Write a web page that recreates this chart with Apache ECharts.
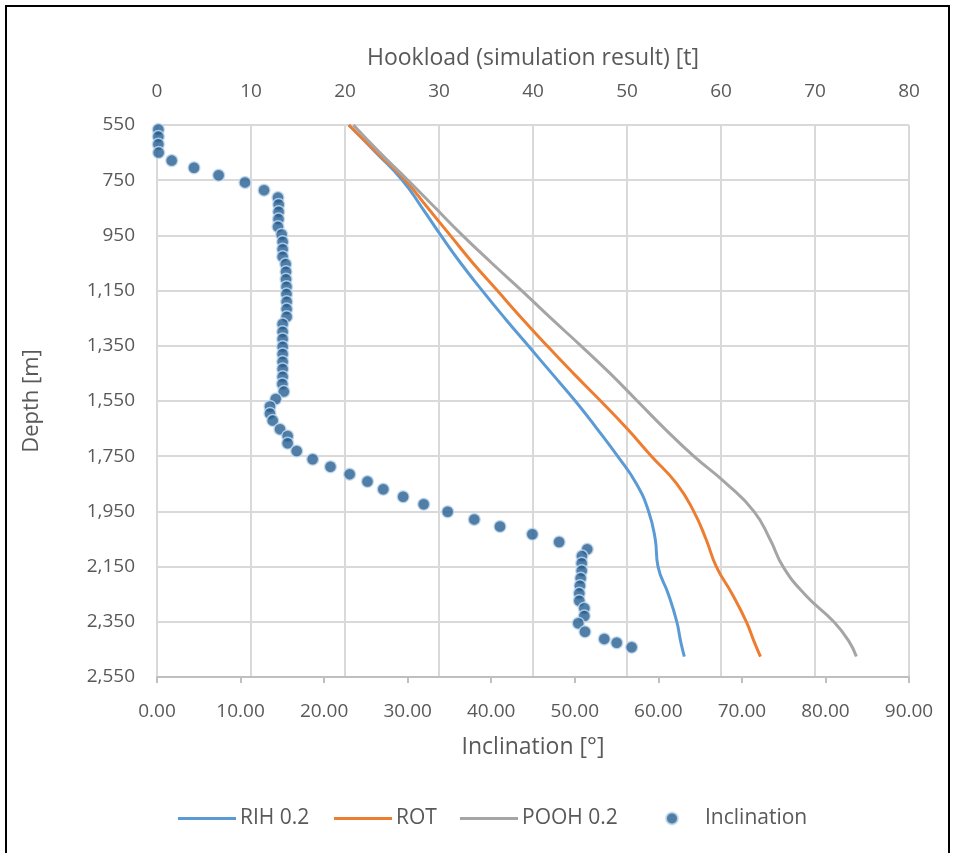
<!DOCTYPE html>
<html>
<head>
<meta charset="utf-8">
<title>Hookload and inclination vs depth</title>
<script src="https://cdn.jsdelivr.net/npm/echarts@6/dist/echarts.min.js"></script>
<style>
  html, body { margin: 0; padding: 0; background: #fff; }
  #chart { width: 955px; height: 853px; }
</style>
</head>
<body>
<div id="chart"></div>
<script>
// Depth stations of the hookload simulation [m]
const loadDepths = [550, 650, 750, 850, 950, 1050, 1150, 1250, 1350, 1450, 1550, 1650, 1750, 1850, 1950, 2050, 2150, 2250, 2350, 2420, 2476];
// Simulated hookload [t]
const rih = [20.4, 23.3, 26.1, 28.2, 30.2, 32.3, 34.6, 37.0, 39.5, 42.0, 44.5, 46.8, 49.0, 51.0, 52.3, 53.0, 53.3, 54.4, 55.3, 55.7, 56.1];
const rot = [20.4, 23.4, 26.4, 28.8, 31.2, 33.6, 36.2, 38.8, 41.5, 44.3, 47.2, 50.0, 52.6, 55.3, 57.1, 58.4, 59.5, 61.2, 62.7, 63.5, 64.2];
const pooh = [20.9, 23.7, 26.7, 29.6, 32.5, 35.6, 38.8, 41.9, 45.1, 48.2, 51.1, 54.0, 57.1, 60.6, 63.5, 65.2, 66.6, 68.9, 72.0, 73.6, 74.4];

// Survey stations [m] and inclination [deg]
const surveyDepths = [566, 592, 620, 650, 679, 705, 732, 758, 786, 813, 838, 864, 891, 919, 947, 973, 1000, 1027, 1054, 1082, 1109, 1136, 1162, 1190, 1217, 1245, 1271, 1299, 1325, 1353, 1380, 1408, 1434, 1462, 1488, 1516, 1543, 1570, 1595, 1621, 1652, 1677, 1703, 1731, 1761, 1788, 1815, 1842, 1870, 1897, 1924, 1951, 1979, 2005, 2033, 2061, 2087, 2112, 2138, 2165, 2192, 2219, 2247, 2274, 2301, 2329, 2355, 2386, 2412, 2426, 2442];
const inclination = [0.16, 0.16, 0.16, 0.2, 1.76, 4.43, 7.38, 10.53, 12.81, 14.48, 14.56, 14.56, 14.54, 14.48, 14.92, 15.04, 15.04, 15.04, 15.4, 15.44, 15.44, 15.5, 15.5, 15.52, 15.52, 15.52, 15.04, 15.04, 15.04, 15.04, 15.04, 15.04, 15.04, 15.04, 15.0, 15.18, 14.21, 13.52, 13.52, 13.85, 14.72, 15.64, 15.64, 16.72, 18.63, 20.76, 23.06, 25.19, 27.08, 29.46, 31.92, 34.79, 37.97, 41.05, 44.92, 48.13, 51.49, 50.86, 50.83, 50.83, 50.71, 50.62, 50.54, 50.54, 51.14, 51.14, 50.42, 51.22, 53.53, 55.02, 56.81];

// Axis ranges
const depthRange = [550, 2550];
const inclRange = [0, 90];
const loadRange = [0, 80];

// Series names and colours
const names = ['RIH 0.2', 'ROT', 'POOH 0.2', 'Inclination'];
const colors = ['#5b9bd5', '#ed7d31', '#a5a5a5', '#255e91'];

const FONT = 'Open Sans';
const TXT = '#595959';

function pairs(xs, ys) { return ys.map((y, i) => [xs[i], y]); }

const chart = echarts.init(document.getElementById('chart'), null, { renderer: 'canvas' });

const lineSeries = (name, values, color) => ({
  name, type: 'line', xAxisIndex: 1, yAxisIndex: 0,
  data: pairs(values, loadDepths),
  showSymbol: false, symbol: 'none', smooth: 0.5,
  lineStyle: { color, width: 3 }, itemStyle: { color },
  z: 2
});

// One legend block per entry so each sits where it belongs
const legendLeft = [173, 329, 455, 660];
const legends = names.map((n, i) => {
  const isLine = i < 3;
  return {
    left: legendLeft[i], top: 803,
    itemWidth: 58, itemHeight: isLine ? 3 : 12, itemGap: 0,
    icon: isLine ? 'rect' : 'circle',
    textStyle: { fontFamily: FONT, fontSize: 21, color: TXT, padding: [0, 0, 0, -1] },
    data: [{ name: n }]
  };
});

chart.setOption({
  animation: false,
  backgroundColor: '#ffffff',
  textStyle: { fontFamily: FONT, color: TXT },
  graphic: [{
    type: 'rect', silent: true, z: 100,
    shape: { x: 6, y: 6, width: 943, height: 870 },
    style: { fill: 'none', stroke: '#000', lineWidth: 2 }
  }],
  grid: { left: 157, right: 46, top: 125, bottom: 176, containLabel: false },
  legend: legends,
  xAxis: [{
    type: 'value', position: 'bottom',
    min: inclRange[0], max: inclRange[1], interval: 10,
    name: 'Inclination [°]', nameLocation: 'middle', nameGap: 59,
    nameTextStyle: { fontFamily: FONT, fontSize: 23, color: TXT },
    axisLine: { show: true, lineStyle: { color: '#bfbfbf', width: 2 } },
    axisTick: { show: true, inside: false, length: 6, lineStyle: { color: '#bfbfbf', width: 2 } },
    axisLabel: { margin: 25, fontFamily: FONT, fontSize: 19, color: TXT, formatter: v => v.toFixed(2) },
    splitLine: { show: false }
  }, {
    type: 'value', position: 'top',
    min: loadRange[0], max: loadRange[1], interval: 10,
    name: 'Hookload (simulation result) [t]', nameLocation: 'middle', nameGap: 55,
    nameTextStyle: { fontFamily: FONT, fontSize: 23, color: TXT },
    axisLine: { show: false },
    axisTick: { show: false },
    axisLabel: { margin: 24, fontFamily: FONT, fontSize: 19, color: TXT },
    splitLine: { show: true, lineStyle: { color: '#d9d9d9', width: 2 } }
  }],
  yAxis: [{
    type: 'value', inverse: true,
    min: depthRange[0], max: depthRange[1], interval: 200,
    name: 'Depth [m]', nameLocation: 'middle', nameGap: 114,
    nameTextStyle: { fontFamily: FONT, fontSize: 22, color: TXT },
    axisLine: { show: false },
    axisTick: { show: false },
    axisLabel: { margin: 22, fontFamily: FONT, fontSize: 19, color: TXT, formatter: v => v.toLocaleString('en-US') },
    splitLine: { show: true, lineStyle: { color: '#d9d9d9', width: 2 } }
  }],
  series: [
    lineSeries(names[0], rih, colors[0]),
    lineSeries(names[1], rot, colors[1]),
    lineSeries(names[2], pooh, colors[2]),
    {
      name: names[3], type: 'scatter', xAxisIndex: 0, yAxisIndex: 0,
      data: pairs(inclination, surveyDepths),
      symbol: 'circle', symbolSize: 12,
      itemStyle: { color: colors[3], borderColor: '#c5dcf0', borderWidth: 1.5 },
      z: 3
    }
  ]
});
</script>
</body>
</html>
